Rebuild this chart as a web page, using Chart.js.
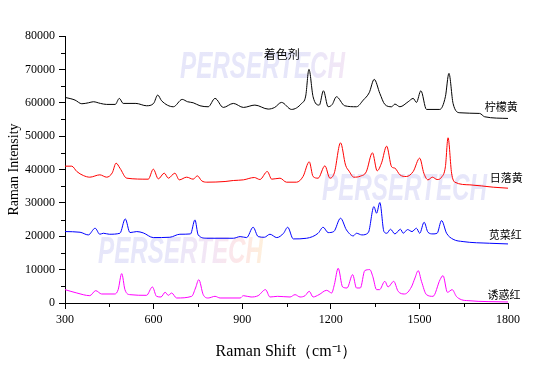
<!DOCTYPE html>
<html>
<head>
<meta charset="utf-8">
<script src="https://cdn.jsdelivr.net/npm/chart.js@4/dist/chart.umd.min.js"></script>
<style>
  body { margin: 0; background: #fff; }
  canvas { display: block; }
</style>
</head>
<body>
<canvas id="ramanChart" width="556" height="376"></canvas>
<script>
// spectra (Raman shift in cm-1, intensity)
var yellowShift = [300, 320, 334, 357, 380, 396, 420, 441, 470, 484, 497, 540, 576, 600, 614, 627, 667, 697, 715, 734, 757, 785, 808, 836, 870, 904, 943, 988, 1010, 1033, 1067, 1101, 1115, 1126, 1140, 1161, 1175, 1191, 1205, 1219, 1247, 1287, 1310, 1330, 1347, 1366, 1383, 1406, 1417, 1434, 1462, 1479, 1490, 1505, 1524, 1569, 1588, 1600, 1614, 1637, 1704, 1721, 1800];
var yellowInt = [61600, 61200, 60800, 59700, 60000, 60300, 59800, 59500, 59500, 61300, 59800, 59800, 59100, 59800, 62300, 60600, 58800, 61000, 60300, 60000, 59100, 58800, 61300, 58600, 59800, 58600, 59300, 58100, 58600, 60100, 58000, 59800, 62000, 70000, 61800, 59300, 63600, 58800, 59500, 61800, 59100, 58800, 60800, 63000, 67000, 62800, 59500, 58800, 59600, 58800, 60300, 61300, 60100, 63600, 58000, 58000, 61800, 68800, 59800, 57000, 56800, 55800, 55300];

var sunsetShift = [300, 323, 340, 362, 384, 418, 441, 460, 473, 486, 509, 582, 599, 616, 636, 650, 672, 687, 712, 734, 748, 763, 780, 842, 870, 904, 941, 960, 985, 1000, 1028, 1050, 1084, 1106, 1127, 1140, 1157, 1180, 1197, 1212, 1233, 1250, 1262, 1278, 1300, 1320, 1341, 1357, 1372, 1389, 1406, 1417, 1434, 1456, 1479, 1501, 1515, 1529, 1544, 1560, 1575, 1588, 1597, 1609, 1620, 1671, 1750, 1800];
var sunsetInt = [41000, 41000, 39400, 38200, 37700, 38400, 37700, 39000, 41900, 40400, 37400, 37100, 40100, 37200, 38900, 37400, 38900, 36900, 37700, 37100, 38100, 36600, 36200, 36400, 36700, 36900, 37600, 37000, 39400, 37100, 37400, 36200, 36200, 37900, 42300, 37900, 37400, 41100, 37400, 39000, 48000, 41300, 39500, 37700, 38000, 39300, 45000, 39600, 42000, 47000, 40800, 40400, 38400, 37900, 39400, 43400, 38900, 36900, 37700, 37000, 37700, 40800, 49500, 38900, 36200, 35400, 34700, 34400];

var amaranthShift = [300, 351, 379, 402, 418, 430, 450, 486, 504, 520, 543, 565, 599, 655, 689, 725, 740, 751, 780, 870, 893, 915, 937, 954, 975, 994, 1017, 1040, 1054, 1073, 1118, 1157, 1174, 1191, 1210, 1233, 1253, 1276, 1287, 1305, 1327, 1346, 1355, 1366, 1380, 1390, 1402, 1417, 1436, 1445, 1460, 1475, 1490, 1501, 1516, 1529, 1546, 1560, 1575, 1592, 1614, 1648, 1738, 1800];
var amaranthInt = [21400, 21200, 20400, 22400, 20600, 20900, 20600, 20900, 25200, 21100, 21400, 21000, 19600, 19700, 20600, 20700, 24900, 20400, 19400, 19400, 19900, 19600, 22700, 19900, 19700, 20600, 19600, 20900, 22700, 19200, 19400, 20900, 22700, 21100, 21400, 25400, 21900, 20100, 20900, 20400, 21100, 28900, 26900, 30100, 21400, 20900, 22100, 20700, 22100, 20900, 22000, 21400, 22400, 20900, 24200, 21200, 20700, 20900, 24700, 20900, 19100, 18400, 17900, 17700];

var alluraShift = [300, 340, 384, 404, 424, 469, 480, 492, 503, 520, 576, 596, 610, 625, 639, 650, 661, 678, 729, 742, 753, 768, 785, 808, 825, 893, 904, 930, 954, 979, 994, 1020, 1062, 1079, 1096, 1113, 1127, 1140, 1160, 1186, 1203, 1212, 1225, 1240, 1255, 1274, 1287, 1300, 1315, 1332, 1342, 1355, 1365, 1383, 1394, 1413, 1428, 1450, 1473, 1485, 1496, 1507, 1524, 1546, 1570, 1580, 1595, 1611, 1625, 1642, 1665, 1800];
var alluraInt = [4000, 3000, 2200, 3700, 2700, 2700, 4000, 8800, 4000, 2500, 2300, 4800, 2000, 1800, 3200, 2300, 3000, 1500, 2000, 4500, 7000, 2500, 1500, 2000, 1500, 1500, 2200, 1800, 2200, 4000, 1800, 2000, 1800, 2500, 1800, 2200, 3500, 1800, 2500, 3800, 3000, 5500, 10400, 4800, 4500, 8500, 4500, 4500, 9700, 10000, 8000, 4000, 4000, 6500, 4800, 6500, 3500, 2700, 4800, 7500, 9700, 6500, 2500, 2000, 7000, 8200, 3200, 4000, 2000, 1000, 700, 300];

var seriesNames = ['柠檬黄', '日落黄', '苋菜红', '诱惑红'];
var seriesColors = ['#000000', '#ff0000', '#0000ff', '#ff00ff'];

// text labels placed in data units
var labelText = ['柠檬黄', '日落黄', '苋菜红', '诱惑红'];
var labelShift = [1721, 1738, 1735, 1731];
var labelInt = [58800, 37600, 20400, 2600];
var chartTitle = '着色剂';
var titleShift = 1034;
var titleInt = 74500;

function toPoints(xs, ys) {
    var pts = [];
    for (var i = 0; i < xs.length; i++) {
        pts.push({x: xs[i], y: ys[i]});
    }
    return pts;
}

var allShift = [yellowShift, sunsetShift, amaranthShift, alluraShift];
var allInt = [yellowInt, sunsetInt, amaranthInt, alluraInt];
var datasets = [];
for (var i = 0; i < allShift.length; i++) {
    datasets.push({
        label: seriesNames[i],
        data: toPoints(allShift[i], allInt[i]),
        borderColor: seriesColors[i],
        borderWidth: 1,
        pointRadius: 0,
        cubicInterpolationMode: 'monotone',
        fill: false
    });
}

// faint logo stamped behind the spectra
var watermarkPlugin = {
    id: 'watermark',
    beforeDatasetsDraw: function (chart) {
        var ctx = chart.ctx;
        var spots = [[180, 78], [322, 200], [98, 263]];
        ctx.save();
        ctx.font = 'italic bold 36px "Liberation Sans"';
        var w = ctx.measureText('PERSERTECH').width;
        for (var i = 0; i < spots.length; i++) {
            var x0 = spots[i][0], y0 = spots[i][1];
            var g = ctx.createLinearGradient(x0, 0, x0 + 165, 0);
            g.addColorStop(0, 'rgba(185,185,240,0.35)');
            g.addColorStop(0.45, 'rgba(225,185,225,0.35)');
            g.addColorStop(0.7, 'rgba(250,185,185,0.35)');
            g.addColorStop(1, 'rgba(252,230,150,0.4)');
            ctx.save();
            ctx.translate(x0, y0);
            ctx.scale(165 / w, 1);
            ctx.fillStyle = g;
            ctx.textBaseline = 'alphabetic';
            ctx.fillText('PERSERTECH', 0, 0);
            ctx.restore();
        }
        ctx.restore();
    }
};

// minor ticks and text labels
var extrasPlugin = {
    id: 'extras',
    afterDraw: function (chart) {
        var ctx = chart.ctx;
        var xs = chart.scales.x, ys = chart.scales.y;
        ctx.save();
        ctx.strokeStyle = '#000';
        ctx.lineWidth = 1;
        ctx.beginPath();
        for (var v = 450; v < 1800; v += 300) {
            var px = Math.round(xs.getPixelForValue(v)) + 0.5;
            ctx.moveTo(px, ys.bottom);
            ctx.lineTo(px, ys.bottom + 4);
        }
        for (var u = 5000; u < 80000; u += 10000) {
            var py = Math.round(ys.getPixelForValue(u)) + 0.5;
            ctx.moveTo(xs.left, py);
            ctx.lineTo(xs.left - 4, py);
        }
        ctx.stroke();

        ctx.fillStyle = '#000';
        ctx.font = '11px "Noto Sans CJK SC"';
        ctx.textBaseline = 'middle';
        ctx.textAlign = 'left';
        for (var i = 0; i < labelText.length; i++) {
            ctx.fillText(labelText[i], xs.getPixelForValue(labelShift[i]), ys.getPixelForValue(labelInt[i]));
        }
        ctx.font = '12px "Noto Sans CJK SC"';
        ctx.textAlign = 'center';
        ctx.fillText(chartTitle, xs.getPixelForValue(titleShift), ys.getPixelForValue(titleInt));
        ctx.restore();
    }
};

function plainNumber(value) {
    return String(value);
}

var ctx = document.getElementById('ramanChart').getContext('2d');
var ramanChart = new Chart(ctx, {
    type: 'line',
    data: { datasets: datasets },
    plugins: [watermarkPlugin, extrasPlugin],
    options: {
        responsive: false,
        animation: false,
        devicePixelRatio: 1,
        layout: { padding: { top: 36, right: 48, left: 0, bottom: 0 } },
        plugins: {
            legend: { display: false },
            tooltip: { enabled: false }
        },
        scales: {
            x: {
                type: 'linear',
                min: 300,
                max: 1800,
                afterFit: function (scale) { scale.height = 73; },
                border: { color: '#000', width: 1 },
                grid: { drawOnChartArea: false, tickLength: 6, color: '#000' },
                ticks: {
                    stepSize: 300,
                    color: '#000',
                    padding: 4,
                    maxRotation: 0,
                    callback: plainNumber,
                    font: { family: '"Liberation Serif"', size: 12 }
                },
                title: {
                    display: true,
                    text: 'Raman Shift（cm⁻¹）',
                    color: '#000',
                    padding: { top: 4, bottom: 15 },
                    font: { family: '"Liberation Serif"', size: 16 }
                }
            },
            y: {
                min: 0,
                max: 80000,
                afterFit: function (scale) { scale.width = 65; },
                border: { color: '#000', width: 1 },
                grid: { drawOnChartArea: false, tickLength: 6, color: '#000' },
                ticks: {
                    stepSize: 10000,
                    color: '#000',
                    padding: 4,
                    callback: plainNumber,
                    font: { family: '"Liberation Serif"', size: 12 }
                },
                title: {
                    display: true,
                    text: 'Raman Intensity',
                    color: '#000',
                    padding: { top: 6, bottom: 0 },
                    font: { family: '"Liberation Serif"', size: 14 }
                }
            }
        }
    }
});
</script>
</body>
</html>
